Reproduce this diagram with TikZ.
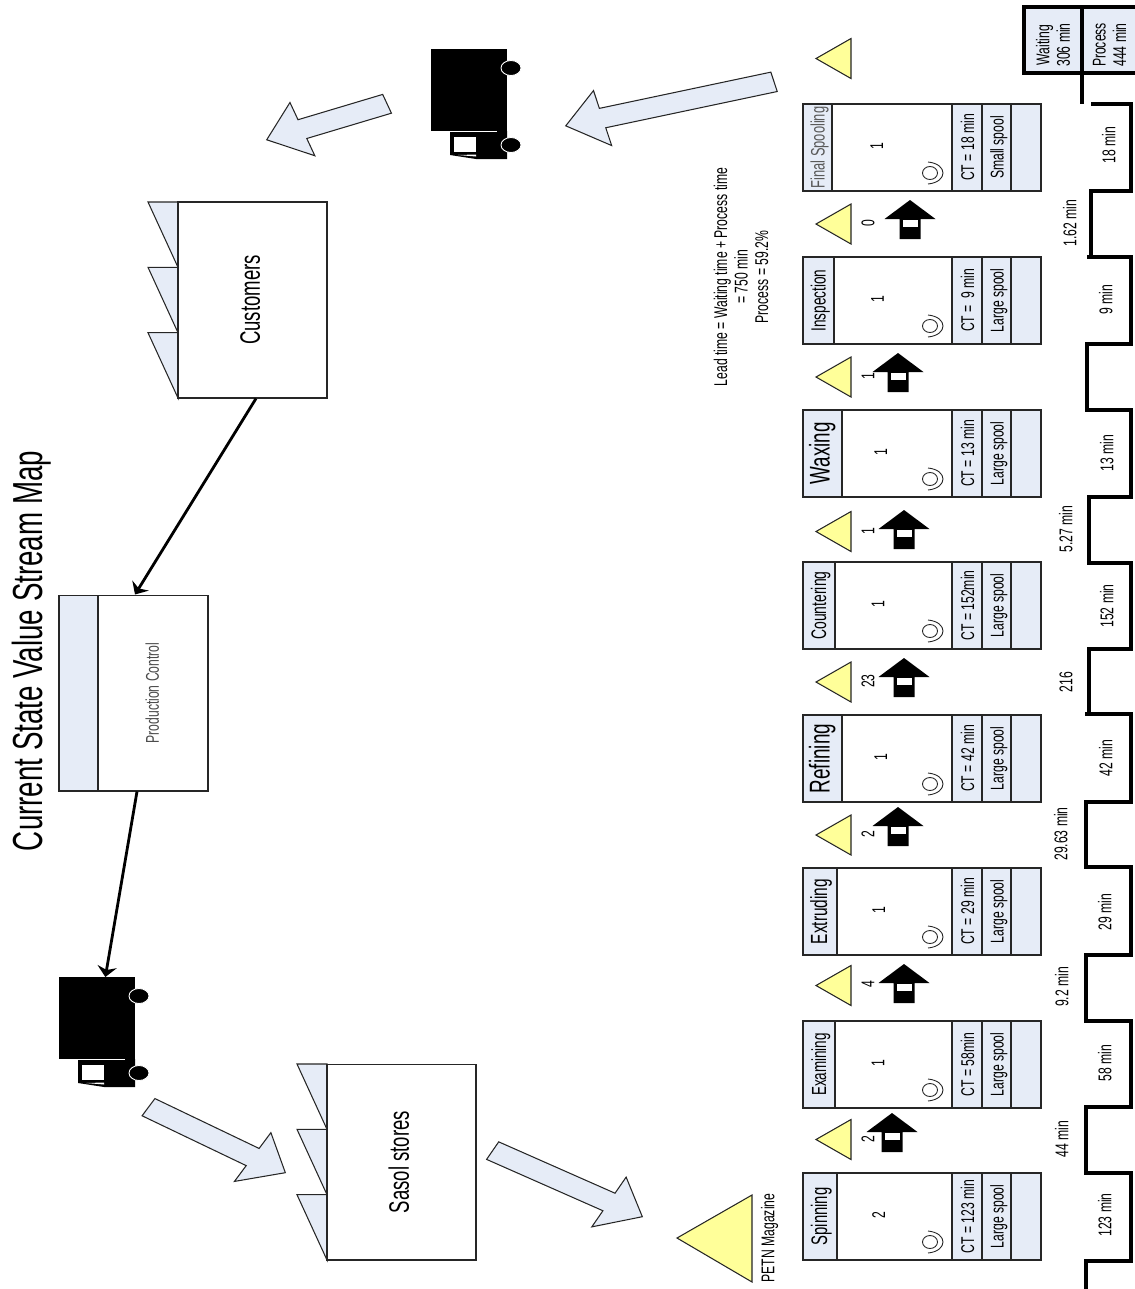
\documentclass[tikz,border=0pt]{standalone}
\usepackage{fontspec}
\setmainfont[FakeStretch=0.66]{Liberation Sans}
\usetikzlibrary{positioning,arrows.meta,calc,shapes.geometric,shapes.arrows}
\definecolor{boxblue}{RGB}{230,236,247}
\definecolor{invyellow}{RGB}{255,255,153}
\newcommand{\fsz}[1]{\fontsize{#1}{#1}\selectfont}
% name, top, right edge of title, title size, title, count, CT, spool
\newcommand{\procbox}[8]{
  \node[sect, minimum height={(#3-803)*.02cm}, font=\fsz{#4}] (#1title) at ({(803+#3)/2},#2+43.5) {#5};
  \node[sect, fill=white, minimum height={(952-#3)*.02cm}] (#1main) at ({(952+#3)/2},#2+43.5) {};
  \node[sect, minimum height=.6cm] (#1ct) at (967,#2+43.5) {#7};
  \node[sect, minimum height=.58cm] (#1spool) at (996.5,#2+43.5) {#8};
  \node[sect, minimum height=.6cm] (#1blank) at (1026,#2+43.5) {};
  \node[lbl] (#1count) at ({#3*.4+544},#2+42) {#6};
  \draw[spiral] (930,#2+69) ellipse [x radius=7.5, y radius=6.5];
  \draw[spiral] (928,#2+58) .. controls (948,#2+60) and (948,#2+78) .. (928,#2+80);
}
% left of head, apex
\newcommand{\pusharrow}[2]{
  \fill[black] (#1,#2) -- (#1+25.5,#2+19) -- (#1+10.5,#2+19) -- (#1+10.5,#2+39) -- (#1-10.5,#2+39) -- (#1-10.5,#2+19) -- (#1-25.5,#2+19) -- cycle;
  \fill[white] (#1-7.5,#2+19.5) rectangle (#1+7.5,#2+27);
}
\newcommand{\invtri}[1]{
  \draw[invent] (851,#1-20) -- (816,#1) -- (851,#1+20) -- cycle;
}
% name, left, top
\newcommand{\truck}[3]{
  \node[truckbody, anchor=north west] (#1) at (#2,#3) {};
  \fill[black] (#2+19,#3+82) -- (#2+76,#3+82) -- (#2+76,#3+110) -- (#2+45,#3+110) -- (#2+19,#3+106) -- cycle;
  \fill[white] (#2+23,#3+88) rectangle (#2+45,#3+103);
  \fill[white] (#2+27,#3+106) -- (#2+45,#3+105.5) -- (#2+45,#3+107.5) -- cycle;
  \draw[white, line width=.5pt] (#2+19,#3+82.5) -- (#2+66,#3+82.5);
  \node[wheel] (#1front) at (#2+80,#3+19) {};
  \node[wheel] (#1rear) at (#2+80,#3+96) {};
}
% name, left, top, text
\newcommand{\factory}[4]{
  \draw[thinline, fill=boxblue] (#2-30,#3) -- (#2,#3) -- (#2,#3+65.3) -- cycle;
  \draw[thinline, fill=boxblue] (#2-30,#3+65.3) -- (#2,#3+65.3) -- (#2,#3+130.7) -- cycle;
  \draw[thinline, fill=boxblue] (#2-30,#3+130.7) -- (#2,#3+130.7) -- (#2,#3+196) -- cycle;
  \node[sect, fill=white, minimum width=3.92cm, minimum height=2.98cm, font=\fsz{16}, text height=.85em] (#1) at (#2+74.5,#3+98) {#4};
}

\begin{document}
\begin{tikzpicture}[
    x=.02cm, y=-.02cm,
    every node/.style={font=\fsz{10.5}},
    thinline/.style={draw=black!85, line width=.6pt},
    sect/.style={thinline, fill=boxblue, rotate=90, minimum width=1.74cm, inner sep=0pt, text height=.8em, text depth=0pt},
    lbl/.style={rotate=90, inner sep=0pt, text height=.72em, text depth=0pt},
    mlbl/.style={rotate=90, inner sep=0pt, align=center, font=\fontsize{10.5}{11.7}\selectfont},
    spiral/.style={black!85, line width=.5pt},
    invent/.style={draw=black!85, fill=invyellow, line width=.6pt},
    truckbody/.style={fill=black, minimum width=1.52cm, minimum height=1.64cm, inner sep=0pt},
    wheel/.style={ellipse, draw=white, fill=black, minimum width=.4cm, minimum height=.3cm, inner sep=0pt, line width=.5pt},
    pull/.style={single arrow, thinline, fill=boxblue, inner sep=0pt, inner ysep=.24cm, single arrow head extend=.46cm, single arrow tip angle=86, anchor=tip, yscale=.8},
    arr/.style={-{Stealth[length=6pt, width=11pt]}, line width=1.6pt},
    ladder/.style={line width=1.8pt, line join=miter},
]
\useasboundingbox (0,0) rectangle (1135,1289);

% === Title ===
\node[lbl, font=\fsz{23.9}] (title) at (36,651) {Current State Value Stream Map};

% === Outside parties ===
\factory{customers}{178}{202}{Customers}
\factory{sasol}{327}{1064}{Sasol stores}

\node[sect, fill=white, minimum width=3.92cm, minimum height=2.98cm] (prodctl) at (133.5,693) {};
\node[sect, minimum width=3.92cm, minimum height=.78cm] (prodband) at (78.5,693) {};
\node[lbl, text=black!70] (prodtext) at (152.5,693) {Production Control};

\truck{truckout}{431}{49}
\truck{truckin}{59}{977}

\draw[arr] ([xshift=.07cm]customers.west) -- ([xshift=.03cm]prodctl.east);
\draw[arr] ([xshift=.07cm]prodctl.west) -- ([xshift=.16cm]truckin.north);

% === Shipping arrows ===
\node[pull, rotate=194.8, minimum height=4.31cm] (pullout) at (565,126) {};
\node[pull, rotate=200.5, minimum height=2.57cm] (pullcust) at (266,140) {};
\node[pull, rotate=-30.9, minimum height=3.19cm] (pullin) at (286,1173) {};
\node[pull, rotate=-28.9, minimum height=3.42cm] (pullmag) at (643,1217) {};

% === Magazine ===
\draw[invent] (752,1195) -- (677,1238) -- (752,1282) -- cycle;
\node[lbl] (magtext) at (768,1238) {PETN Magazine};

% === Process boxes ===
\procbox{spool}{104}{832}{11.1}{\textcolor{black!65}{Final Spooling}}{1}{CT = 18 min}{Small spool}
\procbox{insp}{257}{834}{11.7}{Inspection}{1}{CT =\, 9 min}{Large spool}
\procbox{wax}{410}{842}{16.2}{Waxing}{1}{CT = 13 min}{Large spool}
\procbox{count}{562}{835}{12}{Countering}{1}{CT = 152min}{Large spool}
\procbox{refine}{715}{842}{16.3}{Refining}{1}{CT = 42 min}{Large spool}
\procbox{extrude}{868}{837}{13.3}{Extruding}{1}{CT = 29 min}{Large spool}
\procbox{exam}{1021}{835}{11.6}{Examining}{1}{CT = 58min}{Large spool}
\procbox{spin}{1173}{837}{12.8}{Spinning}{2}{CT = 123 min}{Large spool}

% === Inventory ===
\invtri{58.5}
\invtri{224}
\invtri{377}
\invtri{531.5}
\invtri{682}
\invtri{835}
\invtri{985.5}
\invtri{1139.5}

\node[lbl] (inv0) at (868,223) {0};
\node[lbl] (inv1) at (868,376) {1};
\node[lbl] (inv2) at (868,531) {1};
\node[lbl] (inv3) at (868,681) {23};
\node[lbl] (inv4) at (868,834) {2};
\node[lbl] (inv5) at (868,984) {4};
\node[lbl] (inv6) at (868,1139) {2};

\pusharrow{910}{200}
\pusharrow{898}{353}
\pusharrow{904}{510}
\pusharrow{904}{658}
\pusharrow{898}{807}
\pusharrow{904}{964}
\pusharrow{892}{1113}

% === Lead time ===
\node[mlbl] (leadtext) at (741,277) {Lead time = Waiting time + Process time\\= 750 min\\Process = 59.2\%};

% === Data box ===
\node[inner sep=0pt, fill=boxblue, minimum width=1.16cm, minimum height=1.32cm] (waitbox) at (1053,40) {};
\node[inner sep=0pt, fill=boxblue, minimum width=1.06cm, minimum height=1.32cm] (procbox) at (1108.5,40) {};
\node[mlbl] (waittext) at (1053,45) {Waiting\\306 min};
\node[mlbl] (proctext) at (1109.5,45) {Process\\444 min};
\draw[ladder] (1135,7) -- (1024,7) -- (1024,73) -- (1135,73);
\draw[ladder] (1082,7) -- (1082,104);

% === Timeline ===
\draw[ladder] (1091,104) -- (1131,104) -- (1131,191) -- (1091,191) -- (1091,257) -- (1087,257) -- (1131,257) -- (1131,344)
  -- (1087,344) -- (1087,410) -- (1131,410) -- (1131,497) -- (1089,497) -- (1089,563) -- (1131,563) -- (1131,649)
  -- (1089,649) -- (1089,714) -- (1085,714) -- (1131,714) -- (1131,802) -- (1086,802) -- (1086,867) -- (1131,867)
  -- (1131,955) -- (1086,955) -- (1086,1021) -- (1131,1021) -- (1131,1107) -- (1086,1107) -- (1086,1173) -- (1131,1173)
  -- (1131,1261) -- (1086,1261) -- (1086,1289);

\node[lbl] (t18) at (1109,145) {18 min};
\node[lbl] (t9) at (1106,300) {9 min};
\node[lbl] (t13) at (1107,453) {13 min};
\node[lbl] (t152) at (1107,606) {152 min};
\node[lbl] (t42) at (1106,758) {42 min};
\node[lbl] (t29) at (1105,912) {29 min};
\node[lbl] (t58) at (1105,1063) {58 min};
\node[lbl] (t123) at (1105,1215) {123 min};

\node[lbl] (w162) at (1070,223) {1.62 min};
\node[lbl] (w527) at (1066,529) {5.27 min};
\node[lbl] (w216) at (1066,682) {216};
\node[lbl] (w2963) at (1061,834) {29.63 min};
\node[lbl] (w92) at (1062,987) {9.2 min};
\node[lbl] (w44) at (1062,1139) {44 min};

\end{tikzpicture}
\end{document}
